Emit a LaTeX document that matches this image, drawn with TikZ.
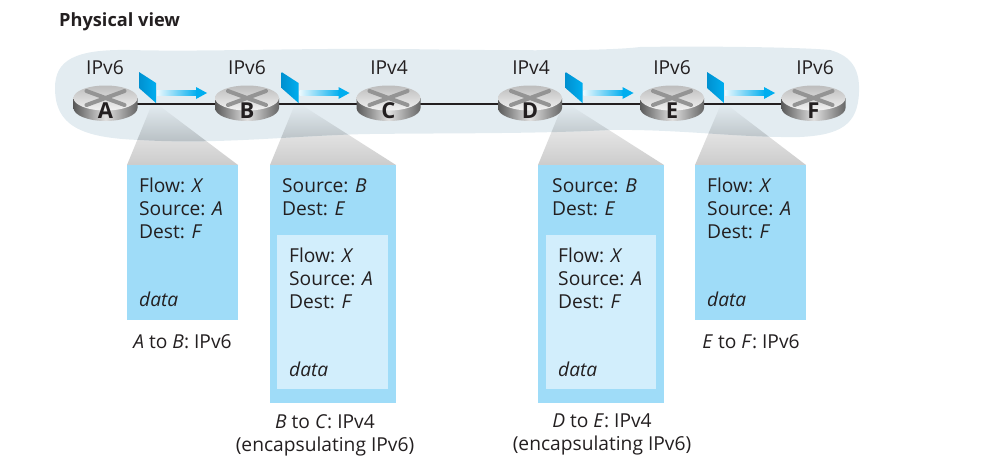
\documentclass[tikz,border=0pt]{standalone}
\usepackage{fontspec}
\setmainfont{Open Sans}
\usetikzlibrary{arrows.meta}
\definecolor{cloudc}{HTML}{E3ECF1}
\definecolor{pktc}{HTML}{9FDCF8}
\definecolor{innerc}{HTML}{D2EEFC}
\definecolor{inkc}{HTML}{231F20}
\definecolor{flowc}{HTML}{00AEEF}
\definecolor{pktdark}{HTML}{0090D0}
\newcommand{\cloudpath}{(55,88) .. controls (55,60) and (75,49) .. (130,50) .. controls (200,52) and (300,48) .. (400,49) .. controls (480,50) and (600,52) .. (640,47) .. controls (700,46) and (800,47) .. (830,50) .. controls (852,56) and (860,70) .. (859,92) .. controls (858,125) and (840,135) .. (800,137) .. controls (740,138) and (680,129) .. (610,130) .. controls (530,134) and (450,133) .. (370,134) .. controls (300,135) and (220,145) .. (140,140) .. controls (80,138) and (55,125) .. (55,88) -- cycle}
\tikzset{
  x=1pt,y=-1pt,
  txt/.style={font=\fontsize{19.2}{23}\selectfont,text=inkc,inner sep=0pt,align=left,anchor=north west},
  captext/.style={font=\fontsize{19.2}{23}\selectfont,text=inkc,inner sep=0pt,align=center,anchor=north},
  iplabel/.style={font=\fontsize{19.2}{23}\selectfont,text=inkc,inner sep=0pt,anchor=base},
  rletter/.style={font=\fontsize{22}{22}\selectfont\bfseries,text=inkc,inner sep=0pt,anchor=base},
  wire/.style={draw=inkc,line width=1.4pt},
  packetbox/.style={fill=pktc,draw=none},
  innerbox/.style={fill=innerc,draw=none},
  xarm/.style={draw=black!42,line width=4pt,line cap=round},
  router/.pic={
    \shade[left color=black!65,right color=black!60,middle color=black!12] (-32,0) -- (-32,10) .. controls (-32,17) and (-18,23) .. (0,23) .. controls (18,23) and (32,17) .. (32,10) -- (32,0) -- cycle;
    \shade[top color=black!26,bottom color=black!5] (0,0) ellipse[x radius=32,y radius=12.5];
    \foreach \sx/\sy in {1/1,1/-1}{
      \draw[xarm] (-\sx*19,-\sy*7) -- (\sx*19,\sy*7);
    }
  },
  packetflag/.pic={
    \shade[left color=pktdark,right color=flowc] (0,0) -- (17,11) -- (17,31) -- (0,16) -- cycle;
    \shade[left color=flowc!8,right color=flowc] (18,18.5) rectangle (58,23.5);
    \fill[flowc] (57,15) -- (68,21) -- (57,27) -- cycle;
  }
}
\begin{document}
\begin{tikzpicture}
\useasboundingbox (0,0) rectangle (1008,471);
\node[font=\fontsize{18.2}{20}\selectfont\bfseries,text=inkc,inner sep=0pt,anchor=base west] (title) at (59,27) {Physical view};

\foreach \a/\b/\c/\d in {152/157/127/238,295/300/270/396,563/568/538/664,721/726/695/806}{
  \shade[top color=black!3,bottom color=black!20] (\a,104) -- (\c,165) -- (\d,165) -- (\b,104) -- cycle;
}
\fill[cloudc] \cloudpath;
\begin{scope}
  \clip \cloudpath;
  \foreach \a/\b/\c/\d in {152/157/127/238,295/300/270/396,563/568/538/664,721/726/695/806}{
    \shade[top color=cloudc,bottom color=black!30!cloudc] (\a,104) -- (\c,165) -- (\d,165) -- (\b,104) -- cycle;
  }
\end{scope}

\coordinate (A) at (105.5,98);
\coordinate (B) at (247,98);
\coordinate (C) at (388.5,98);
\coordinate (D) at (530,98);
\coordinate (E) at (672,98);
\coordinate (F) at (813.5,98);
\draw[wire] ([yshift=-6]A) -- ([yshift=-6]B) -- ([yshift=-6]C) -- ([yshift=-6]D) -- ([yshift=-6]E) -- ([yshift=-6]F);

\foreach \r in {A,B,C,D,E,F}{
  \pic at (\r) {router};
  \node[rletter] (let\r) at ([yshift=-20]\r) {\r};
}
\node[iplabel] (ipA) at (105,74) {IPv6};
\node[iplabel] (ipB) at (247,74) {IPv6};
\node[iplabel] (ipC) at (389,74) {IPv4};
\node[iplabel] (ipD) at (531,74) {IPv4};
\node[iplabel] (ipE) at (672,74) {IPv6};
\node[iplabel] (ipF) at (815,74) {IPv6};

\foreach \x in {139,281.5,565.5,707}{
  \pic at (\x,72) {packetflag};
}

\path[packetbox] (127,165) rectangle (238,320);
\path[packetbox] (270,165) rectangle (396,403);
\path[innerbox]  (277,235) rectangle (388,389);
\path[packetbox] (538,165) rectangle (664,403);
\path[innerbox]  (546,235) rectangle (656,389);
\path[packetbox] (695,165) rectangle (806,320);

\node[txt] (h1) at (139,178) {Flow: \textit{X}\\Source: \textit{A}\\Dest: \textit{F}};
\node[txt] (d1) at (139,292) {\textit{data}};
\node[txt] (h2) at (282,178) {Source: \textit{B}\\Dest: \textit{E}};
\node[txt] (h2i) at (289,248) {Flow: \textit{X}\\Source: \textit{A}\\Dest: \textit{F}};
\node[txt] (d2) at (289,362) {\textit{data}};
\node[txt] (h3) at (552,178) {Source: \textit{B}\\Dest: \textit{E}};
\node[txt] (h3i) at (558,248) {Flow: \textit{X}\\Source: \textit{A}\\Dest: \textit{F}};
\node[txt] (d3) at (558,362) {\textit{data}};
\node[txt] (h4) at (707,178) {Flow: \textit{X}\\Source: \textit{A}\\Dest: \textit{F}};
\node[txt] (d4) at (707,292) {\textit{data}};

\node[captext] (c1) at (182.5,334) {\textit{A} to \textit{B}: IPv6};
\node[captext] (c2) at (325,414) {\textit{B} to \textit{C}: IPv4\\(encapsulating IPv6)};
\node[captext] (c3) at (602,414) {\textit{D} to \textit{E}: IPv4\\(encapsulating IPv6)};
\node[captext] (c4) at (751,334) {\textit{E} to \textit{F}: IPv6};
\end{tikzpicture}
\end{document}
